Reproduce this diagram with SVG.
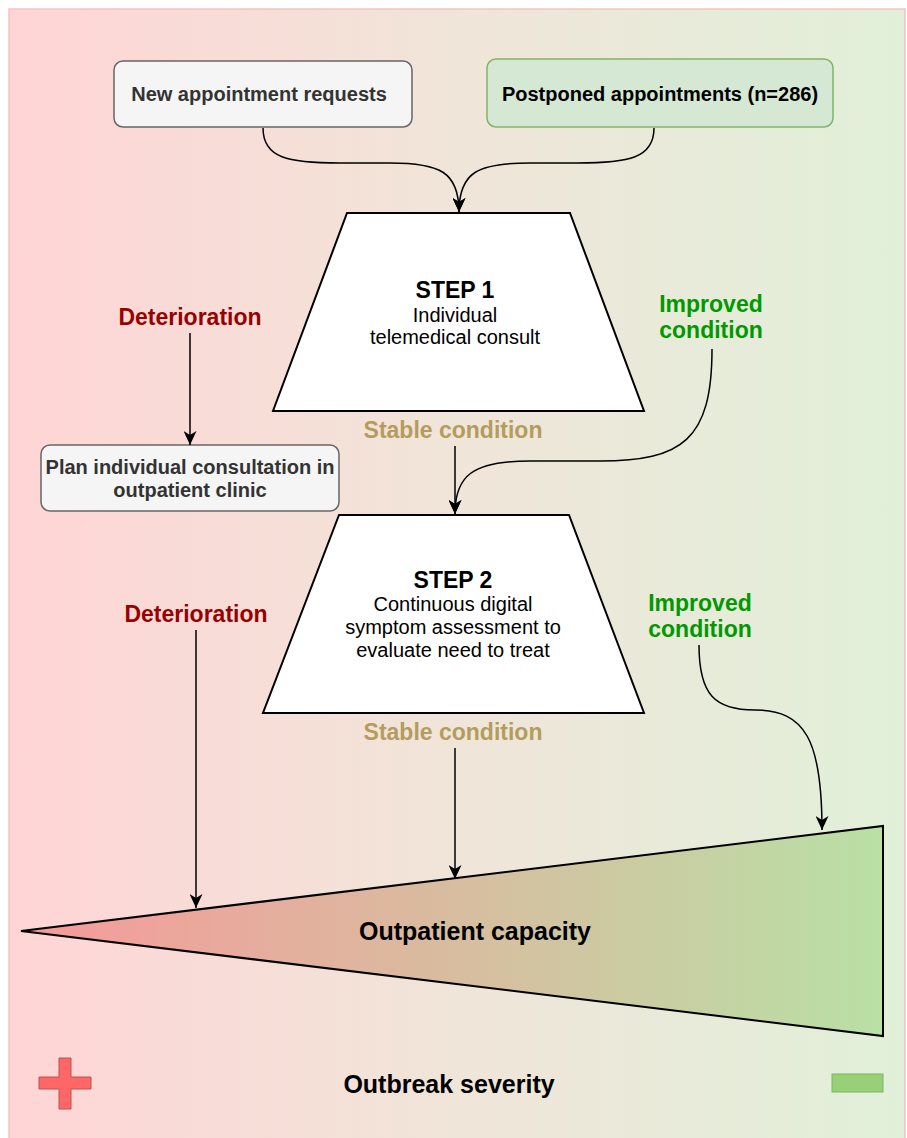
<svg xmlns="http://www.w3.org/2000/svg" width="907" height="1138" viewBox="0 0 907 1138">
<defs>
<linearGradient id="bg" x1="0" y1="0" x2="1" y2="0">
<stop offset="0" stop-color="#ffd5d5"/>
<stop offset="0.5" stop-color="#f0e5d9"/>
<stop offset="1" stop-color="#e1f0d9"/>
</linearGradient>
<linearGradient id="tri" x1="0" y1="0" x2="1" y2="0">
<stop offset="0" stop-color="#f7999a"/>
<stop offset="1" stop-color="#b9e0a5"/>
</linearGradient>
<marker id="arr" markerUnits="userSpaceOnUse" markerWidth="15" markerHeight="13" viewBox="0 0 15 13" refX="14" refY="6.5" orient="auto">
<path d="M0,0 L14,6.5 L0,13 L4,6.5 Z" fill="#000"/>
</marker>
<style>
.box{stroke-width:1.5}
.bt{font-family:"Liberation Sans",Arial,sans-serif;font-weight:bold;font-size:20px;text-anchor:middle}
.title{font-family:"Liberation Sans",Arial,sans-serif;font-weight:bold;font-size:23px;text-anchor:middle;fill:#000}
.big{font-family:"Liberation Sans",Arial,sans-serif;font-weight:bold;font-size:25px;text-anchor:middle;fill:#000}
.body{font-family:"Liberation Sans",Arial,sans-serif;font-size:20px;text-anchor:middle;fill:#000}
.lbl{font-family:"Liberation Sans",Arial,sans-serif;font-weight:bold;font-size:23px;text-anchor:middle}
.det{fill:#990000}
.imp{fill:#009900}
.stb{fill:#b39c5e}
.edge{fill:none;stroke:#000;stroke-width:1.5}
</style>
</defs>
<g id="background">
<rect x="9" y="9" width="896" height="1135" fill="url(#bg)" stroke="#f5c3c0" stroke-width="1.5"/>
</g>
<g id="new-requests">
<rect class="box" x="114" y="61" width="298" height="66" rx="9" fill="#f5f5f5" stroke="#666666"/>
<text class="bt" x="259" y="101" fill="#333333">New appointment requests</text>
</g>
<g id="postponed">
<rect class="box" x="487" y="59" width="346" height="68" rx="9" fill="#d5e8d4" stroke="#82b366"/>
<text class="bt" x="660" y="101" fill="#000">Postponed appointments (n=286)</text>
</g>
<g id="step1">
<polygon points="347,213 570,213 644,411 273,411" fill="#ffffff" stroke="#000" stroke-width="2"/>
<text class="title" x="455" y="298">STEP 1</text>
<text class="body" x="455" y="322">Individual</text>
<text class="body" x="455" y="344">telemedical consult</text>
</g>
<g id="step2">
<polygon points="339,515 569,515 644,713 263,713" fill="#ffffff" stroke="#000" stroke-width="2"/>
<text class="title" x="453" y="588">STEP 2</text>
<text class="body" x="453" y="611">Continuous digital</text>
<text class="body" x="453" y="634">symptom assessment to</text>
<text class="body" x="453" y="657">evaluate need to treat</text>
</g>
<g id="plan-consult">
<rect class="box" x="41" y="445" width="298" height="66" rx="9" fill="#f5f5f5" stroke="#666666"/>
<text class="bt" x="190" y="474" fill="#333333">Plan individual consultation in</text>
<text class="bt" x="190" y="497" fill="#333333">outpatient clinic</text>
</g>
<g id="capacity">
<polygon points="21,931 883,826 883,1036" fill="url(#tri)" stroke="#000" stroke-width="2"/>
<text class="big" x="475" y="940">Outpatient capacity</text>
</g>
<g id="labels">
<text class="lbl det" x="190" y="325">Deterioration</text>
<text class="lbl imp" x="711" y="312">Improved</text>
<text class="lbl imp" x="711" y="338">condition</text>
<text class="lbl stb" x="453" y="438">Stable condition</text>
<text class="lbl det" x="196" y="622">Deterioration</text>
<text class="lbl imp" x="700" y="611">Improved</text>
<text class="lbl imp" x="700" y="637">condition</text>
<text class="lbl stb" x="453" y="740">Stable condition</text>
</g>
<g id="legend">
<path d="M59,1058 H71 V1077 H91 V1089 H71 V1109 H59 V1089 H39 V1077 H59 Z" fill="#ff6666" stroke="#b85450" stroke-width="1"/>
<text class="big" x="449" y="1093">Outbreak severity</text>
<rect x="832" y="1074" width="51" height="18" fill="#97d077" stroke="#82b366" stroke-width="1"/>
</g>
<g id="connectors">
<path class="edge" marker-end="url(#arr)" d="M263,128 C263,158 288,163 340,163 L390,163 C440,163 459,172 459,212"/>
<path class="edge" marker-end="url(#arr)" d="M654,128 C654,158 629,163 577,163 L530,163 C478,163 459,172 459,212"/>
<path class="edge" marker-end="url(#arr)" d="M190,333 L190,445"/>
<path class="edge" marker-end="url(#arr)" d="M455,446 L455,514"/>
<path class="edge" marker-end="url(#arr)" d="M712,349 C712,440 682,461 600,461 L530,461 C472,461 455,476 455,514"/>
<path class="edge" marker-end="url(#arr)" d="M196,630 L196,908"/>
<path class="edge" marker-end="url(#arr)" d="M455,748 L455,879"/>
<path class="edge" marker-end="url(#arr)" d="M699,645 C699,695 715,710 755,710 C805,710 822,740 822,830"/>
</g>
</svg>
